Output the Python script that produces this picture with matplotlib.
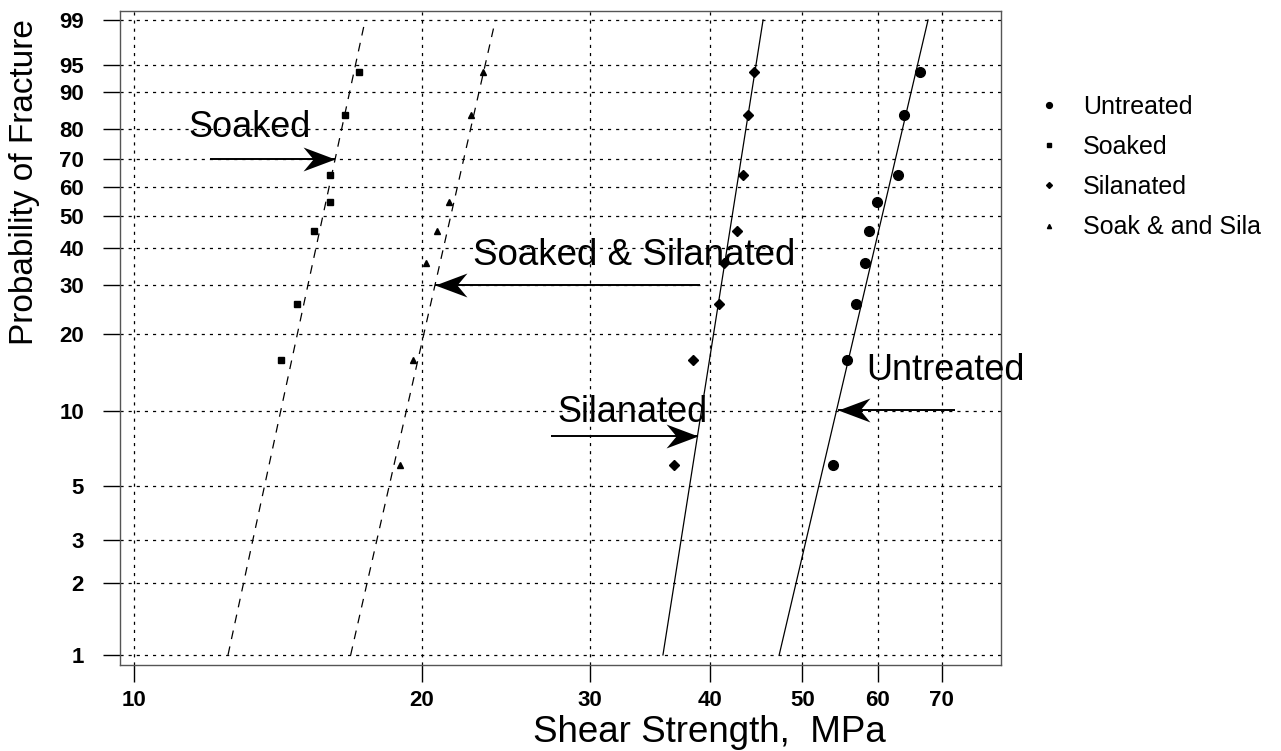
import numpy as np
import matplotlib
matplotlib.use("Agg")
import matplotlib.pyplot as plt
from matplotlib.path import Path

plt.rcParams["font.family"] = ["Liberation Sans", "DejaVu Sans"]

# probability of fracture (%) and shear strength (MPa) for each group
untreated_pf = [6.1, 15.9, 25.7, 35.6, 45.2, 54.9, 64.5, 84.0, 93.9]
untreated_mpa = [53.9, 55.7, 56.9, 58.1, 58.7, 59.8, 62.9, 63.9, 66.4]

soaked_pf = [15.9, 25.7, 45.2, 54.9, 64.5, 84.0, 93.9]
soaked_mpa = [14.24, 14.81, 15.42, 16.02, 16.03, 16.63, 17.21]

silanated_pf = [6.1, 15.9, 25.7, 35.6, 45.2, 64.5, 84.0, 93.9]
silanated_mpa = [36.74, 38.46, 40.92, 41.41, 42.71, 43.32, 43.91, 44.55]

soaksila_pf = [6.1, 15.9, 35.6, 45.2, 54.9, 84.0, 93.9]
soaksila_mpa = [18.98, 19.60, 20.19, 20.76, 21.37, 22.52, 23.17]

# Weibull fit lines: strength at 1% and 99% probability
fit_pf = [1, 99]
fit_untreated = [47.3, 67.7]
fit_soaked = [12.54, 17.45]
fit_silanated = [35.75, 45.5]
fit_soaksila = [16.85, 23.88]

x_ticks = [10, 20, 30, 40, 50, 60, 70]
y_ticks = [1, 2, 3, 5, 10, 20, 30, 40, 50, 60, 70, 80, 90, 95, 99]


def weib(p):
    p = np.clip(np.asarray(p, dtype=float), 1e-6, 100 - 1e-6)
    return np.log(-np.log(1 - p / 100.0))


def weib_inv(w):
    w = np.asarray(w, dtype=float)
    return 100.0 * (1 - np.exp(-np.exp(w)))


# swept-back arrow heads, tip at the origin
head_right = Path([(0, 0), (-32, 12), (-22, 0), (-32, -12), (0, 0)],
                  [Path.MOVETO, Path.LINETO, Path.LINETO, Path.LINETO, Path.CLOSEPOLY])
head_left = Path([(0, 0), (32, 12), (22, 0), (32, -12), (0, 0)],
                 [Path.MOVETO, Path.LINETO, Path.LINETO, Path.LINETO, Path.CLOSEPOLY])


def arrow(ax, tail, tip, y, head):
    ax.plot([tail, tip], [y, y], color="k", lw=1.4, solid_capstyle="butt")
    ax.plot([tip], [y], marker=head, ms=46, color="k", mew=0, ls="none")


fig = plt.figure(figsize=(12.81, 7.51), dpi=100)
ax = fig.add_axes([0.0937, 0.1145, 0.6877, 0.8709])
ax.set_xscale("log")
ax.set_yscale("function", functions=(weib, weib_inv))
ax.set_xlim(9.668, 80.7)
ax.set_ylim(0.908, 99.342)

ax.set_xticks(x_ticks)
ax.set_xticklabels([str(v) for v in x_ticks])
ax.xaxis.set_minor_locator(plt.NullLocator())
ax.set_yticks(y_ticks)
ax.set_yticklabels([str(v) for v in y_ticks])
ax.yaxis.set_minor_locator(plt.NullLocator())
ax.tick_params(direction="out", length=12, width=1, color="k", labelsize=16)
ax.tick_params(axis="x", pad=6)
ax.tick_params(axis="y", pad=14)
for lab in ax.get_xticklabels() + ax.get_yticklabels():
    lab.set_fontweight("bold")
ax.grid(True, color="k", linestyle=(0, (2.5, 4)), linewidth=0.9)
for sp in ax.spines.values():
    sp.set_color("#555555")
    sp.set_linewidth(1)

# fit lines
ax.plot(fit_untreated, fit_pf, color="k", lw=0.9)
ax.plot(fit_silanated, fit_pf, color="k", lw=0.9)
ax.plot(fit_soaked, fit_pf, color="k", lw=0.9, ls=(0, (7, 6)))
ax.plot(fit_soaksila, fit_pf, color="k", lw=0.9, ls=(0, (7, 6)))

# data points
ax.plot(untreated_mpa, untreated_pf, "o", color="k", ms=7, ls="none", label="Untreated")
ax.plot(soaked_mpa, soaked_pf, "s", color="k", ms=4.5, ls="none", label="Soaked")
ax.plot(silanated_mpa, silanated_pf, "D", color="k", ms=5, ls="none", label="Silanated")
ax.plot(soaksila_mpa, soaksila_pf, "^", color="k", ms=5, ls="none", label="Soak & and Sila")

arrow(ax, 12.01, 16.23, 70, head_right)
arrow(ax, 39.1, 20.65, 30, head_left)
arrow(ax, 27.3, 38.86, 8.0, head_right)
arrow(ax, 72.2, 54.5, 10.1, head_left)

ax.text(11.39, 77.5, "Soaked", fontsize=26, va="baseline", ha="left")
ax.text(22.6, 35.2, "Soaked & Silanated", fontsize=26.5, va="baseline", ha="left")
ax.text(27.7, 9.09, "Silanated", fontsize=26, va="baseline", ha="left")
ax.text(58.4, 13.3, "Untreated", fontsize=26, va="baseline", ha="left")

fig.text(709 / 1281, 1 - 733 / 751, "Shear Strength,  MPa", fontsize=26.5, ha="center", va="center")
fig.text(25 / 1281, 1 - 182 / 751, "Probability of Fracture", fontsize=24, rotation=90,
         ha="center", va="center")

leg = ax.legend(loc="upper left", bbox_to_anchor=(1014 / 1281, 1 - 72 / 751),
                bbox_transform=fig.transFigure, frameon=False, fontsize=18,
                markerscale=0.6, handlelength=1.0, handletextpad=0.85, labelspacing=0.65)

fig.savefig("out.png", dpi=100)
